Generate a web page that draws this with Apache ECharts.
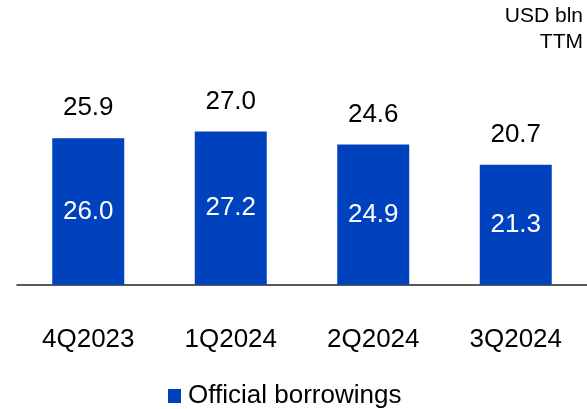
<!DOCTYPE html>
<html>
<head>
<meta charset="utf-8">
<script src="https://cdn.jsdelivr.net/npm/echarts@6/dist/echarts.min.js"></script>
<style>
html,body{margin:0;padding:0;background:#fff;}
#c{width:587px;height:409px;}
</style>
</head>
<body>
<div id="c"></div>
<script>
var categories = ['4Q2023', '1Q2024', '2Q2024', '3Q2024'];
var borrowings = [26.0, 27.2, 24.9, 21.3];
var topLabels = [25.9, 27.0, 24.6, 20.7];
var seriesName = 'Official borrowings';
var unitLines = ['USD bln', 'TTM'];

var FONT = '"Liberation Sans", Arial, sans-serif';
var BLUE = '#0041BE';

var titleStyle = {fontFamily: FONT, fontSize: 21, fontWeight: 'normal', color: '#000'};

var chart = echarts.init(document.getElementById('c'), null, {renderer: 'canvas'});
chart.setOption({
  animation: false,
  backgroundColor: '#fff',
  textStyle: {fontFamily: FONT},
  title: unitLines.map(function (t, i) {
    return {text: t, right: 4, top: 6 + i * 26, padding: 0, textStyle: titleStyle};
  }),
  legend: {
    data: [seriesName],
    left: 168,
    top: 383,
    padding: 0,
    itemWidth: 13,
    itemHeight: 14,
    icon: 'rect',
    textStyle: {fontFamily: FONT, fontSize: 26, color: '#000', padding: [0, 0, 0, 2]}
  },
  grid: {left: 17, width: 578, top: 115.8, bottom: 124.3, containLabel: false},
  xAxis: {
    type: 'category',
    data: categories,
    axisLine: {lineStyle: {color: '#222', width: 1.5}},
    axisTick: {show: false},
    axisLabel: {fontFamily: FONT, fontSize: 26, color: '#000', margin: 42}
  },
  yAxis: {type: 'value', min: 0, max: 30, show: false, splitLine: {show: false}},
  series: [
    {
      name: seriesName,
      type: 'bar',
      data: borrowings,
      barWidth: 72,
      itemStyle: {color: BLUE},
      label: {
        show: true, position: 'inside', color: '#fff', fontFamily: FONT, fontSize: 26,
        formatter: function (p) { return p.value.toFixed(1); }
      }
    },
    {
      name: 'top',
      type: 'bar',
      data: borrowings,
      barWidth: 72,
      barGap: '-100%',
      silent: true,
      itemStyle: {color: 'rgba(0,0,0,0)'},
      label: {
        show: true, position: 'top', distance: 17, color: '#000', fontFamily: FONT, fontSize: 26,
        formatter: function (p) { return topLabels[p.dataIndex].toFixed(1); }
      }
    }
  ]
});
</script>
</body>
</html>
